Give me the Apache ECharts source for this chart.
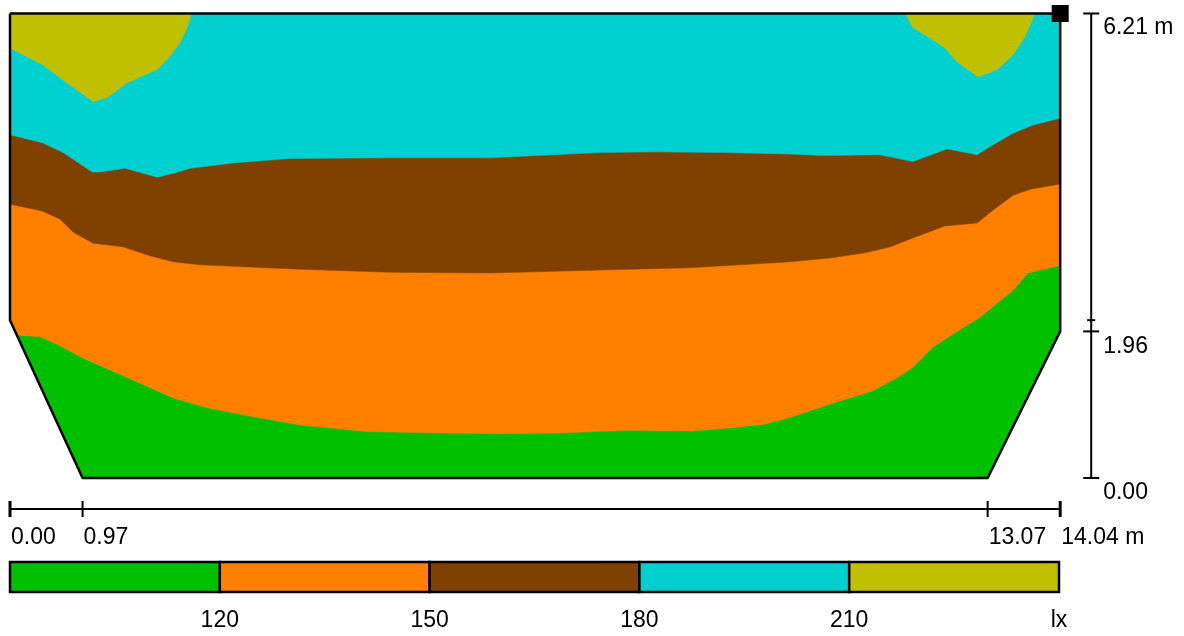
<!DOCTYPE html>
<html>
<head>
<meta charset="utf-8">
<script src="https://cdn.jsdelivr.net/npm/echarts@6/dist/echarts.min.js"></script>
<style>
  html, body { margin: 0; padding: 0; background: #fff; }
  #chart { width: 1184px; height: 636px; }
</style>
</head>
<body>
<div id="chart"></div>
<script>
// Room cross-section outline, metres [x, y]
const roomOutline = [[0, 6.21], [14.04, 6.21], [14.04, 1.96], [13.07, 0], [0.97, 0], [0, 2.11], [0, 6.21]];
const widthMarks = [0, 0.97, 13.07, 14.04];
const heightMarks = [0, 1.96, 6.21];
const minorHeightMarks = [2.11];
const corner = [14.04, 6.21];

// Illuminance isolines (lx), metres [x, y], left to right
const iso120 = [
  [0.09, 1.91], [0.40, 1.89], [0.64, 1.78], [0.98, 1.60], [1.64, 1.31], [2.18, 1.07],
  [2.63, 0.94], [3.25, 0.82], [3.88, 0.71], [4.77, 0.62], [5.79, 0.60], [6.55, 0.59],
  [7.33, 0.60], [8.25, 0.64], [9.12, 0.63], [9.63, 0.67], [10.09, 0.72], [10.40, 0.80],
  [11.00, 1.00], [11.52, 1.16], [11.86, 1.34], [12.07, 1.48], [12.34, 1.75], [12.74, 2.01],
  [12.97, 2.15], [13.20, 2.34], [13.41, 2.51], [13.61, 2.74], [14.04, 2.84]
];
const iso150 = [
  [0, 3.66], [0.43, 3.57], [0.67, 3.46], [0.84, 3.29], [1.11, 3.14], [1.51, 3.09],
  [1.87, 2.97], [2.18, 2.89], [2.54, 2.85], [3.88, 2.79], [5.08, 2.75], [6.42, 2.74],
  [7.89, 2.78], [9.09, 2.81], [10.43, 2.89], [10.96, 2.94], [11.43, 3.01], [11.77, 3.09],
  [12.07, 3.21], [12.50, 3.37], [12.93, 3.41], [13.14, 3.58], [13.41, 3.78], [13.64, 3.86],
  [14.04, 3.93]
];
const iso180 = [
  [0, 4.59], [0.44, 4.48], [0.71, 4.35], [1.10, 4.09], [1.20, 4.09], [1.54, 4.14],
  [1.97, 4.02], [2.21, 4.08], [2.41, 4.14], [2.98, 4.21], [3.74, 4.27], [5.08, 4.28],
  [6.42, 4.28], [7.89, 4.35], [8.65, 4.36], [9.53, 4.35], [10.43, 4.33], [10.87, 4.31],
  [11.63, 4.32], [12.07, 4.23], [12.53, 4.40], [12.93, 4.32], [13.10, 4.43], [13.41, 4.61],
  [13.68, 4.72], [14.04, 4.81]
];
const iso210Left = [
  [0, 5.75], [0.44, 5.52], [0.76, 5.28], [1.11, 5.03], [1.31, 5.09], [1.56, 5.28],
  [1.97, 5.46], [2.14, 5.64], [2.27, 5.82], [2.36, 6.00], [2.43, 6.21]
];
const iso210Right = [
  [11.97, 6.21], [12.07, 6.02], [12.30, 5.88], [12.50, 5.75], [12.66, 5.56], [12.94, 5.36],
  [13.20, 5.46], [13.41, 5.66], [13.57, 5.90], [13.68, 6.16], [13.70, 6.21]
];

const levelColors = ['#00c000', '#ff8000', '#804000', '#00d0d0', '#c0c000'];
const legendLabels = ['', '120', '150', '180', '210', 'lx'];

const FONT = "'Liberation Sans', Arial, sans-serif";
const FONT_SIZE = 23;
const roomTop = roomOutline[0][1];
const roomRight = roomOutline[1][0];

// Filled bands, painted bottom-up: each one covers everything above its isoline
const bands = [
  { poly: roomOutline, level: 0 },
  { poly: iso120.concat([[roomRight, roomTop], [0, roomTop], [0, 2.11]]), level: 1 },
  { poly: iso150.concat([[roomRight, roomTop], [0, roomTop]]), level: 2 },
  { poly: iso180.concat([[roomRight, roomTop], [0, roomTop]]), level: 3 },
  { poly: iso210Left.concat([[0, roomTop]]), level: 4 },
  { poly: iso210Right, level: 4 }
];

const DIM_GAP = 31;   // px between room and dimension lines
const TICK = 8;       // px half-length of a dimension tick

function renderDimensions(params, api) {
  const children = [];
  const line = (a, b, w) => children.push({
    type: 'line', shape: { x1: a[0], y1: a[1], x2: b[0], y2: b[1] },
    style: { stroke: '#000', lineWidth: w || 2 }
  });
  const text = (s, x, y) => children.push({
    type: 'text', x: x, y: y,
    style: { text: s, fill: '#000', font: FONT_SIZE + 'px ' + FONT, align: 'left', verticalAlign: 'middle' }
  });
  // width dimension below the floor
  const b0 = api.coord([widthMarks[0], 0]);
  const b1 = api.coord([widthMarks[widthMarks.length - 1], 0]);
  const by = b0[1] + DIM_GAP;
  line([b0[0], by], [b1[0], by]);
  widthMarks.forEach((m, i) => {
    const p = api.coord([m, 0]);
    const end = i === 0 || i === widthMarks.length - 1;
    line([p[0], by - TICK], [p[0], by + TICK], end ? 3 : 2);
    text(m.toFixed(2) + (i === widthMarks.length - 1 ? ' m' : ''), p[0] + 1, by + 29);
  });
  // height dimension right of the room
  const r0 = api.coord([roomRight, heightMarks[0]]);
  const r1 = api.coord([roomRight, heightMarks[heightMarks.length - 1]]);
  const rx = r0[0] + DIM_GAP;
  line([rx, r1[1]], [rx, r0[1]]);
  heightMarks.forEach((m, i) => {
    const p = api.coord([roomRight, m]);
    line([rx - TICK, p[1]], [rx + TICK, p[1]]);
    const top = i === heightMarks.length - 1;
    text(m.toFixed(2) + (top ? ' m' : ''), rx + 12, p[1] + (top ? 14 : 15));
  });
  minorHeightMarks.forEach(m => {
    const p = api.coord([roomRight, m]);
    line([rx - 4, p[1]], [rx + 4, p[1]]);
  });
  return { type: 'group', children: children };
}

const chart = echarts.init(document.getElementById('chart'));
chart.setOption({
  animation: false,
  backgroundColor: '#fff',
  grid: [
    { left: 10, top: 478 - 6.3 * 74.8, width: 15 * 74.8, height: 7.3 * 74.8 },
    { left: 10, top: 562, width: 1049, height: 30 }
  ],
  xAxis: [
    { gridIndex: 0, type: 'value', min: 0, max: 15, show: false },
    {
      gridIndex: 1, type: 'value', min: 0, max: 5, interval: 1,
      axisLine: { show: false }, axisTick: { show: false }, splitLine: { show: false },
      axisLabel: {
        show: true, margin: 17, fontSize: FONT_SIZE, color: '#000', fontFamily: FONT,
        showMinLabel: true, showMaxLabel: true,
        formatter: v => legendLabels[Math.round(v)] || ''
      }
    }
  ],
  yAxis: [
    { gridIndex: 0, type: 'value', min: -1, max: 6.3, show: false },
    { gridIndex: 1, type: 'value', min: 0, max: 1, show: false }
  ],
  series: [
    {
      type: 'custom', xAxisIndex: 0, yAxisIndex: 0, silent: true, z: 1,
      data: bands.map((b, i) => [b.poly[0][0], b.poly[0][1], i]),
      encode: { x: 0, y: 1 },
      renderItem: (params, api) => {
        const b = bands[params.dataIndex];
        return {
          type: 'polygon',
          shape: { points: b.poly.map(p => api.coord(p)) },
          style: { fill: levelColors[b.level], stroke: levelColors[b.level], lineWidth: 0.5 }
        };
      }
    },
    {
      type: 'line', xAxisIndex: 0, yAxisIndex: 0, z: 3, silent: true,
      data: roomOutline, symbol: 'none',
      lineStyle: { color: '#000', width: 2.5 }
    },
    {
      type: 'scatter', xAxisIndex: 0, yAxisIndex: 0, z: 4, silent: true,
      data: [corner], symbol: 'rect', symbolSize: 17,
      itemStyle: { color: '#000', opacity: 1 }
    },
    {
      type: 'custom', xAxisIndex: 0, yAxisIndex: 0, z: 3, silent: true,
      clip: false,
      data: [[0, 0]],
      renderItem: renderDimensions
    },
    {
      type: 'custom', xAxisIndex: 1, yAxisIndex: 1, z: 2, silent: true,
      data: levelColors.map((c, i) => [i, i + 1]),
      encode: { x: [0, 1] },
      renderItem: (params, api) => {
        const a = api.coord([api.value(0), 1]);
        const b = api.coord([api.value(1), 0]);
        return {
          type: 'rect',
          shape: { x: a[0], y: a[1], width: b[0] - a[0], height: b[1] - a[1] },
          style: { fill: levelColors[params.dataIndex], stroke: '#000', lineWidth: 2.5 }
        };
      }
    }
  ]
});
</script>
</body>
</html>
